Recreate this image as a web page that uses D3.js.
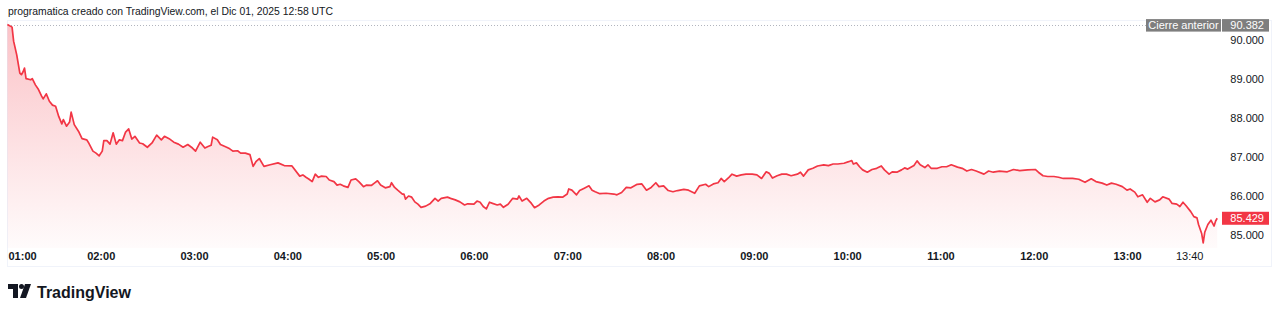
<!DOCTYPE html>
<html>
<head>
<meta charset="utf-8">
<script src="https://cdn.jsdelivr.net/npm/d3@7"></script>
<style>
  html, body { margin: 0; padding: 0; background: #ffffff; }
  svg { display: block; font-family: "Liberation Sans", Arial, sans-serif; }
</style>
</head>
<body>
<svg id="chart" width="1280" height="314"></svg>
<script>
// minutes after 01:00 local time, Dec 01 2025
const minutes = [
  0,3,4,6,8,9,10,11,12,15, 16,18,20,22,23,25,27,29,31,33,
  35,36,38,40,41,43,46,48,51,52, 55,57,59,61,62,64,66,68,70,72,
  74,76,78,80,82,85,87,90,93,96, 99,101,104,107,110,113,116,119,121,124,
  127,129,131,132,135,137,141,143,145,148, 150,153,156,158,160,162,165,169,174,178,
  183,188,190,192,194,196,198,200,202,205, 207,210,212,214,216,219,221,224,226,229,
  231,234,236,238,240,243,246,247,249,251, 254,255,256,258,260,262,264,266,269,272,
  275,277,279,283,285,288,291,294,296,300, 302,304,306,308,310,312,315,317,319,322,
  325,328,329,331,334,337,339,342,345,348, 351,354,357,360,361,363,366,368,371,374,
  376,378,381,385,390,392,395,398,401,405, 408,411,414,417,419,422,425,428,431,435,
  438,442,445,449,451,454,457,459,461,464, 466,469,472,475,479,482,485,488,490,492,
  495,498,501,504,508,510,512,515,518,521, 525,528,531,534,538,541,543,544,546,548,
  550,553,556,559,562,564,567,569,572,575, 577,579,583,585,587,590,592,594,598,601,
  604,607,611,614,617,620,623,628,631,634, 638,643,647,651,656,661,663,666,669,673,
  676,679,682,685,689,693,697,700,704,707, 710,713,717,720,722,725,727,730,733,735,
  738,741,743,747,749,752,754,756,758,761, 763,765,766,768,769,770,772,774,776,777,
  778
];
const prices = [
  90.40,90.33,89.97,89.62,89.15,89.11,89.18,89.28,89.01,88.98, 89.01,88.85,88.73,88.56,88.49,88.62,88.43,88.33,88.30,88.04,
  87.85,87.96,87.79,87.90,88.15,87.83,87.64,87.47,87.44,87.38, 87.15,87.10,87.03,87.15,87.42,87.42,87.33,87.62,87.33,87.44,
  87.42,87.64,87.72,87.46,87.53,87.36,87.34,87.25,87.36,87.56, 87.44,87.53,87.47,87.38,87.33,87.25,87.32,87.23,87.15,87.38,
  87.23,87.27,87.30,87.51,87.44,87.32,87.25,87.21,87.15,87.16, 87.10,87.10,87.06,86.76,86.89,86.96,86.76,86.80,86.85,86.78,
  86.77,86.51,86.54,86.48,86.43,86.37,86.56,86.48,86.51,86.50, 86.41,86.37,86.28,86.30,86.26,86.22,86.41,86.44,86.37,86.24,
  86.28,86.27,86.33,86.39,86.28,86.21,86.24,86.34,86.22,86.15, 86.05,86.05,85.92,86.00,85.97,85.85,85.79,85.71,85.74,85.81,
  85.94,85.87,85.94,85.97,85.94,85.90,85.85,85.77,85.80,85.79, 85.87,85.84,85.73,85.67,85.84,85.81,85.77,85.79,85.71,85.79,
  85.94,85.92,86.00,85.87,85.94,85.81,85.70,85.77,85.87,85.94, 85.97,85.98,85.97,86.05,86.18,86.15,86.03,86.14,86.20,86.26,
  86.15,86.11,86.06,86.07,86.05,86.03,86.09,86.22,86.21,86.30, 86.31,86.15,86.22,86.34,86.24,86.26,86.14,86.11,86.14,86.17,
  86.15,86.07,86.26,86.30,86.24,86.31,86.34,86.45,86.37,86.48, 86.56,86.51,86.54,86.56,86.56,86.54,86.45,86.62,86.58,86.46,
  86.52,86.56,86.56,86.52,86.56,86.61,86.51,86.67,86.71,86.77, 86.80,86.78,86.82,86.82,86.84,86.88,86.91,86.82,86.85,86.75,
  86.67,86.61,86.68,86.71,86.77,86.67,86.56,86.62,86.61,86.67, 86.72,86.69,86.78,86.90,86.80,86.73,86.80,86.71,86.71,86.75,
  86.75,86.80,86.74,86.71,86.64,86.68,86.64,86.56,86.64,86.61, 86.64,86.62,86.68,86.65,86.67,86.68,86.61,86.52,86.50,86.50,
  86.48,86.45,86.45,86.45,86.43,86.35,86.44,86.37,86.33,86.28, 86.33,86.30,86.24,86.15,86.18,86.10,85.98,86.03,85.84,85.94,
  85.85,85.90,85.98,85.92,85.81,85.79,85.73,85.84,85.75,85.60, 85.47,85.44,85.27,85.04,84.80,85.07,85.27,85.38,85.23,85.36,
  85.429
];
const priceTicks = [85, 86, 87, 88, 89, 90];
const timeTicks = ["01:00","02:00","03:00","04:00","05:00","06:00","07:00","08:00","09:00","10:00","11:00","12:00","13:00","13:40"];
const prevClose = 90.382;
const lastPrice = 85.429;
const headerText = "programatica creado con TradingView.com, el Dic 01, 2025 12:58 UTC";

const RED = "#F23645";
const TEXT = "#131722";

function toDate (hhmm) {
  const [h, m] = hhmm.split(":").map(Number);
  return new Date(2025, 11, 1, h, m);
}

const start = new Date(2025, 11, 1, 1, 0);
const data = minutes.map(function (m, i) {
  return { t: new Date(start.getTime() + m * 60000), v: prices[i] };
});

const svg = d3.select("#chart");
const pane = { left: 0, right: 1218, top: 20, bottom: 248 };

const x = d3.scaleTime()
  .domain([start, new Date(2025, 11, 1, 14, 0)])
  .range([7.4, 7.4 + 13 * 93.3]);

const y = d3.scaleLinear()
  .domain([85, 90])
  .range([235, 40]);

// header
svg.append("text")
  .attr("x", 8).attr("y", 15)
  .attr("fill", TEXT)
  .style("font-size", "10.4px")
  .text(headerText);

// widget frame
svg.append("rect")
  .attr("x", 7.5).attr("y", 20.5)
  .attr("width", 1264).attr("height", 246)
  .attr("fill", "none")
  .attr("stroke", "#f0f3fa");

// gradient for area
const defs = svg.append("defs");
const grad = defs.append("linearGradient")
  .attr("id", "areaGrad")
  .attr("gradientUnits", "userSpaceOnUse")
  .attr("x1", 0).attr("x2", 0)
  .attr("y1", y(d3.max(prices))).attr("y2", pane.bottom);
grad.append("stop").attr("offset", 0).attr("stop-color", RED).attr("stop-opacity", 0.3);
grad.append("stop").attr("offset", 1).attr("stop-color", RED).attr("stop-opacity", 0.02);

defs.append("clipPath").attr("id", "paneClip")
  .append("rect")
  .attr("x", pane.left).attr("y", pane.top)
  .attr("width", pane.right - pane.left).attr("height", pane.bottom - pane.top);

const plot = svg.append("g").attr("clip-path", "url(#paneClip)");

// previous close dotted line
plot.append("line")
  .attr("x1", 8).attr("x2", pane.right)
  .attr("y1", Math.round(y(prevClose)) + 0.5).attr("y2", Math.round(y(prevClose)) + 0.5)
  .attr("stroke", "#b2b5be")
  .attr("stroke-width", 1)
  .attr("stroke-dasharray", "1,2");

const area = d3.area()
  .x(d => x(d.t))
  .y0(pane.bottom)
  .y1(d => y(d.v));

const line = d3.line()
  .x(d => x(d.t))
  .y(d => y(d.v));

plot.append("path")
  .datum(data)
  .attr("d", area)
  .attr("fill", "url(#areaGrad)");

plot.append("path")
  .datum(data)
  .attr("d", line)
  .attr("fill", "none")
  .attr("stroke", RED)
  .attr("stroke-width", 1.7)
  .attr("stroke-linejoin", "round");

// price axis
const yAxis = d3.axisRight(y)
  .tickValues(priceTicks)
  .tickFormat(d3.format(".3f"))
  .tickSize(0);

const yg = svg.append("g")
  .attr("transform", "translate(1264,0)")
  .call(yAxis);
yg.select(".domain").remove();
yg.selectAll("text")
  .attr("x", 0)
  .attr("text-anchor", "end")
  .attr("fill", TEXT)
  .style("font-family", "'Liberation Sans', Arial, sans-serif")
  .style("font-size", "11px");

// time axis
const xAxis = d3.axisBottom(x)
  .tickValues(timeTicks.map(toDate))
  .tickFormat(d3.timeFormat("%H:%M"))
  .tickSize(0);

const xg = svg.append("g")
  .attr("transform", "translate(0,252)")
  .call(xAxis);
xg.select(".domain").remove();
xg.selectAll("text")
  .attr("y", 0)
  .attr("dy", "0.71em")
  .attr("fill", TEXT)
  .style("font-family", "'Liberation Sans', Arial, sans-serif")
  .style("font-size", "11px")
  .style("font-weight", d => d.getMinutes() === 0 ? "700" : "400");
xg.selectAll(".tick").filter((d, i) => i === 0)
  .select("text")
  .attr("text-anchor", "start")
  .attr("x", 8 - x(start));

// previous close label
const pcY = y(prevClose);
const pcg = svg.append("g");
pcg.append("rect")
  .attr("x", 1146).attr("y", pcY - 6).attr("width", 75).attr("height", 12.5)
  .attr("fill", "#7e7e7e");
pcg.append("text")
  .attr("x", 1183.5).attr("y", pcY + 0.3).attr("dy", "0.35em")
  .attr("text-anchor", "middle").attr("fill", "#ffffff")
  .style("font-size", "11px")
  .text("Cierre anterior");
pcg.append("rect")
  .attr("x", 1222).attr("y", pcY - 6).attr("width", 47).attr("height", 12.5)
  .attr("fill", "#7e7e7e");
pcg.append("text")
  .attr("x", 1264).attr("y", pcY + 0.3).attr("dy", "0.35em")
  .attr("text-anchor", "end").attr("fill", "#ffffff")
  .style("font-size", "11px")
  .text(d3.format(".3f")(prevClose));

// last price label
const lpY = y(lastPrice);
svg.append("rect")
  .attr("x", 1222).attr("y", lpY - 6.5).attr("width", 47).attr("height", 13)
  .attr("fill", RED);
svg.append("text")
  .attr("x", 1264).attr("y", lpY).attr("dy", "0.35em")
  .attr("text-anchor", "end").attr("fill", "#ffffff")
  .style("font-size", "11px")
  .text(d3.format(".3f")(lastPrice));

// TradingView logo
const logo = svg.append("g").attr("fill", TEXT);
logo.append("path").attr("d", "M8 284 H18 V298 H13 V289 H8 Z");
logo.append("circle").attr("cx", 21.5).attr("cy", 286.5).attr("r", 2.5);
logo.append("path").attr("d", "M25 284 H31 L26 298 H20 Z");
logo.append("text")
  .attr("x", 37).attr("y", 297.5)
  .style("font-size", "16px")
  .style("font-weight", "700")
  .text("TradingView");
</script>
</body>
</html>
